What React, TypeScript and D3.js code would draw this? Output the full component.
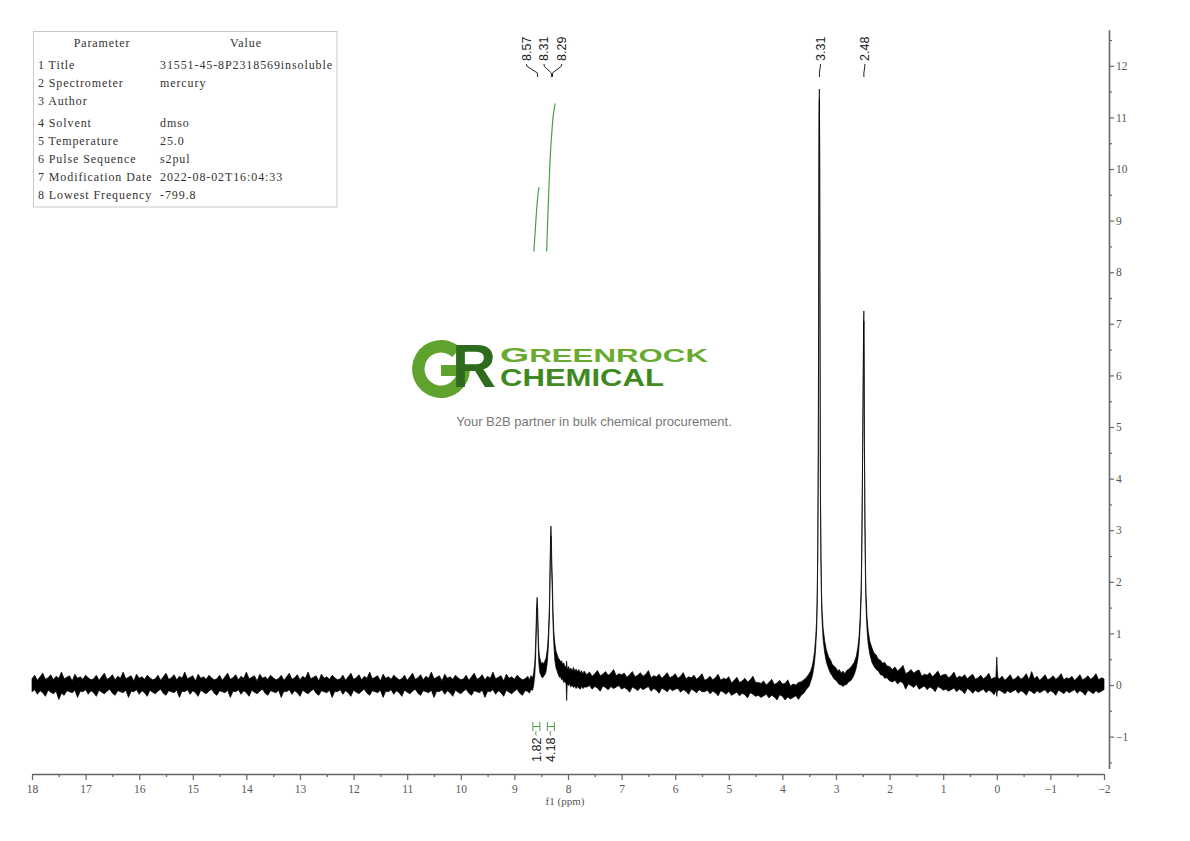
import { useEffect, useRef } from "react";
import * as d3 from "d3";

// ---------------- parameter table ----------------
const paramNames = [
    "1 Title",
    "2 Spectrometer",
    "3 Author",
    "4 Solvent",
    "5 Temperature",
    "6 Pulse Sequence",
    "7 Modification Date",
    "8 Lowest Frequency",
];
const paramValues = ["31551-45-8P2318569insoluble", "mercury", "", "dmso", "25.0", "s2pul", "2022-08-02T16:04:33", "-799.8"];

// ---------------- axes ----------------
const xTicks = [18, 17, 16, 15, 14, 13, 12, 11, 10, 9, 8, 7, 6, 5, 4, 3, 2, 1, 0, -1, -2];
const yTicks = [12, 11, 10, 9, 8, 7, 6, 5, 4, 3, 2, 1, 0, -1];

// ---------------- peak picking / integrals ----------------
const peakLabels = ["8.57", "8.31", "8.29", "3.31", "2.48"];
const peakShifts = [8.57, 8.31, 8.29, 3.31, 2.48];

const integralLabels = ["1.82", "4.18"];
const integralRanges: [number, number][] = [
    [8.64, 8.54],
    [8.4, 8.24],
];
const integralCurve1: [number, number][] = [
    [8.64, 0], [8.636, 0.06], [8.628, 0.22], [8.615, 0.5], [8.6, 0.85], [8.585, 1.18], [8.57, 1.45], [8.555, 1.68], [8.54, 1.82],
];
const integralCurve2: [number, number][] = [
    [8.4, 0], [8.396, 0.1], [8.392, 0.3], [8.385, 0.6], [8.37, 1.25], [8.35, 2.0], [8.33, 2.7], [8.3, 3.4], [8.27, 3.9], [8.24, 4.18],
];

// ---------------- spectrum: [ppm, upper edge, lower edge] of the noisy trace ----------------
const baselineLeft: [number, number, number][] = [
    [18.0, .12, -.13], [17.95, .19, -.09], [17.9, .09, -.18], [17.85, .16, -.11], [17.8, .23, -.15], [17.75, .11, -.22], [17.7, .14, -.1], [17.65, .2, -.14], [17.6, .1, -.17], [17.55, .17, -.12],
    [17.5, .13, -.28], [17.45, .25, -.16], [17.4, .12, -.2], [17.35, .15, -.11], [17.3, .18, -.13], [17.25, .08, -.15], [17.2, .21, -.1], [17.15, .13, -.24], [17.1, .16, -.12], [17.05, .11, -.13],
    [17.0, .19, -.09], [16.95, .14, -.18], [16.9, .1, -.11], [16.85, .12, -.15], [16.8, .19, -.22], [16.75, .09, -.1], [16.7, .16, -.14], [16.65, .23, -.17], [16.6, .11, -.12], [16.55, .14, -.08],
    [16.5, .2, -.16], [16.45, .1, -.2], [16.4, .17, -.11], [16.35, .13, -.13], [16.3, .25, -.15], [16.25, .12, -.1], [16.2, .15, -.24], [16.15, .18, -.12], [16.1, .08, -.13], [16.05, .21, -.09],
    [16.0, .13, -.18], [15.95, .16, -.11], [15.9, .11, -.15], [15.85, .19, -.22], [15.8, .14, -.1], [15.75, .1, -.14], [15.7, .12, -.17], [15.65, .19, -.12], [15.6, .09, -.08], [15.55, .16, -.16],
    [15.5, .23, -.2], [15.45, .11, -.11], [15.4, .14, -.13], [15.35, .2, -.15], [15.3, .1, -.1], [15.25, .17, -.24], [15.2, .13, -.12], [15.15, .25, -.13], [15.1, .12, -.09], [15.05, .15, -.18],
    [15.0, .18, -.11], [14.95, .08, -.15], [14.9, .21, -.22], [14.85, .13, -.1], [14.8, .16, -.14], [14.75, .11, -.17], [14.7, .19, -.12], [14.65, .14, -.08], [14.6, .1, -.16], [14.55, .12, -.2],
    [14.5, .19, -.11], [14.45, .09, -.13], [14.4, .16, -.15], [14.35, .23, -.1], [14.3, .11, -.24], [14.25, .14, -.12], [14.2, .2, -.13], [14.15, .1, -.09], [14.1, .17, -.18], [14.05, .13, -.11],
    [14.0, .25, -.15], [13.95, .12, -.22], [13.9, .15, -.1], [13.85, .18, -.14], [13.8, .08, -.17], [13.75, .21, -.12], [13.7, .13, -.08], [13.65, .16, -.16], [13.6, .11, -.2], [13.55, .19, -.11],
    [13.5, .14, -.13], [13.45, .1, -.15], [13.4, .12, -.1], [13.35, .19, -.24], [13.3, .09, -.12], [13.25, .16, -.13], [13.2, .23, -.09], [13.15, .11, -.18], [13.1, .14, -.11], [13.05, .2, -.15],
    [13.0, .1, -.22], [12.95, .17, -.1], [12.9, .13, -.14], [12.85, .25, -.17], [12.8, .12, -.12], [12.75, .15, -.08], [12.7, .18, -.16], [12.65, .08, -.2], [12.6, .21, -.11], [12.55, .13, -.13],
    [12.5, .16, -.15], [12.45, .11, -.1], [12.4, .19, -.24], [12.35, .14, -.12], [12.3, .1, -.13], [12.25, .12, -.09], [12.2, .19, -.18], [12.15, .09, -.11], [12.1, .16, -.15], [12.05, .23, -.22],
    [12.0, .11, -.1], [11.95, .14, -.14], [11.9, .2, -.17], [11.85, .1, -.12], [11.8, .17, -.08], [11.75, .13, -.16], [11.7, .25, -.2], [11.65, .12, -.11], [11.6, .15, -.13], [11.55, .18, -.15],
    [11.5, .08, -.1], [11.45, .21, -.24], [11.4, .13, -.12], [11.35, .16, -.13], [11.3, .11, -.09], [11.25, .19, -.18], [11.2, .14, -.11], [11.15, .1, -.15], [11.1, .12, -.22], [11.05, .19, -.1],
    [11.0, .09, -.14], [10.95, .16, -.17], [10.9, .23, -.12], [10.85, .11, -.08], [10.8, .14, -.16], [10.75, .2, -.2], [10.7, .1, -.11], [10.65, .17, -.13], [10.6, .13, -.15], [10.55, .25, -.1],
    [10.5, .12, -.24], [10.45, .15, -.12], [10.4, .18, -.13], [10.35, .08, -.09], [10.3, .21, -.18], [10.25, .13, -.11], [10.2, .16, -.15], [10.15, .11, -.22], [10.1, .19, -.1], [10.05, .14, -.14],
    [10.0, .1, -.17], [9.95, .12, -.12], [9.9, .19, -.08], [9.85, .09, -.16], [9.8, .16, -.2], [9.75, .23, -.11], [9.7, .11, -.13], [9.65, .14, -.15], [9.6, .2, -.1], [9.55, .1, -.24],
    [9.5, .17, -.12], [9.45, .13, -.13], [9.4, .25, -.09], [9.35, .12, -.18], [9.3, .15, -.11], [9.25, .18, -.15], [9.2, .08, -.22], [9.15, .21, -.1], [9.1, .13, -.14], [9.05, .16, -.17],
    [9.0, .11, -.12], [8.95, .19, -.08], [8.9, .14, -.16], [8.85, .1, -.2], [8.8, .12, -.11],
];

const aromaticRegion: [number, number, number][] = [
    [8.75, 0.17, -0.12], [8.72, 0.1, -0.16], [8.69, 0.18, -0.09], [8.66, 0.14, -0.1], [8.64, 0.24, 0.0], [8.62, 0.42, 0.18],
    [8.605, 0.75, 0.5], [8.595, 1.15, 0.9], [8.585, 1.55, 1.35], [8.575, 1.7, 1.5], [8.565, 1.45, 1.2],
    [8.555, 1.0, 0.75], [8.545, 0.7, 0.45], [8.53, 0.54, 0.26], [8.51, 0.46, 0.2], [8.49, 0.41, 0.15], [8.47, 0.44, 0.14],
    [8.45, 0.4, 0.18], [8.43, 0.47, 0.2], [8.41, 0.52, 0.26], [8.385, 0.7, 0.45], [8.365, 1.0, 0.78], [8.345, 1.6, 1.38],
    [8.335, 2.3, 2.08], [8.325, 2.9, 2.7], [8.318, 3.08, 2.88], [8.31, 2.8, 2.55], [8.3, 2.3, 2.05],
    [8.29, 1.95, 1.7], [8.28, 1.45, 1.2], [8.265, 1.05, 0.8], [8.245, 0.8, 0.48], [8.225, 0.66, 0.34], [8.2, 0.58, 0.26],
    [8.18, 0.52, 0.2], [8.16, 0.5, 0.15], [8.14, 0.45, 0.16], [8.12, 0.47, 0.1], [8.1, 0.4, 0.12], [8.08, 0.43, 0.05], [8.06, 0.36, 0.07],
    [8.035, 0.35, 0.02], [8.025, 0.46, -0.3], [8.015, 0.3, 0.02], [7.99, 0.36, -0.01], [7.97, 0.29, 0.03], [7.95, 0.33, -0.04],
    [7.92, 0.27, 0.0], [7.9, 0.34, -0.05], [7.87, 0.26, -0.02], [7.85, 0.31, -0.07], [7.82, 0.25, -0.03], [7.8, 0.3, -0.06],
    [7.77, 0.23, -0.08], [7.75, 0.28, -0.03], [7.72, 0.21, -0.07], [7.7, 0.27, -0.04],
];

const baselineMiddle: [number, number, number][] = [
    [7.65, .2, -.04], [7.6, .25, -.01], [7.55, .17, -.08], [7.5, .22, -.03], [7.45, .28, -.06], [7.4, .18, -.12], [7.35, .21, -.02], [7.3, .26, -.05], [7.25, .19, -.09], [7.2, .23, -.03],
    [7.15, .3, -.07], [7.1, .18, -.04], [7.05, .22, -.01], [7.0, .2, -.08], [6.95, .23, -.05], [6.9, .15, -.08], [6.85, .2, -.14], [6.8, .26, -.04], [6.75, .16, -.07], [6.7, .19, -.11],
    [6.65, .24, -.05], [6.6, .17, -.09], [6.55, .21, -.06], [6.5, .28, -.03], [6.45, .14, -.12], [6.4, .18, -.07], [6.35, .16, -.1], [6.3, .21, -.16], [6.25, .13, -.06], [6.2, .18, -.09],
    [6.15, .24, -.13], [6.1, .14, -.07], [6.05, .17, -.11], [6.0, .22, -.08], [5.95, .13, -.07], [5.9, .17, -.14], [5.85, .24, -.09], [5.8, .12, -.12], [5.75, .16, -.18], [5.7, .14, -.08],
    [5.65, .19, -.11], [5.6, .11, -.15], [5.55, .16, -.09], [5.5, .22, -.13], [5.45, .09, -.13], [5.4, .12, -.1], [5.35, .17, -.17], [5.3, .1, -.12], [5.25, .14, -.15], [5.2, .21, -.21],
    [5.15, .09, -.11], [5.1, .13, -.14], [5.05, .11, -.18], [5.0, .16, -.12], [4.95, .04, -.2], [4.9, .09, -.17], [4.85, .15, -.14], [4.8, .05, -.21], [4.75, .08, -.16], [4.7, .13, -.19],
    [4.65, .06, -.25], [4.6, .1, -.15], [4.55, .17, -.18], [4.5, .05, -.22], [4.45, .05, -.2], [4.4, .03, -.24], [4.35, .08, -.21], [4.3, .0, -.18], [4.25, .05, -.25], [4.2, .11, -.2],
    [4.15, .01, -.23], [4.1, .04, -.29], [4.05, .09, -.19], [4.0, .02, -.22], [3.95, .03, -.29], [3.9, .1, -.23], [3.85, -.02, -.27], [3.8, .02, -.24], [3.75, .0, -.21], [3.7, .05, -.28],
];

const aliphaticRegion: [number, number, number][] = [
    [3.65, 0.06, -0.2], [3.6, 0.1, -0.16], [3.55, 0.15, -0.08], [3.5, 0.22, -0.02], [3.47, 0.28, 0.08],
    [3.44, 0.38, 0.18], [3.42, 0.5, 0.3], [3.4, 0.65, 0.45], [3.38, 0.9, 0.7], [3.36, 1.3, 1.1],
    [3.35, 1.8, 1.6], [3.34, 2.7, 2.5], [3.33, 4.6, 4.4], [3.325, 7.0, 6.8], [3.32, 9.8, 9.6],
    [3.315, 11.2, 11.0], [3.31, 11.55, 11.35], [3.305, 10.5, 10.3], [3.3, 8.0, 7.8], [3.295, 5.5, 5.3],
    [3.29, 3.8, 3.6], [3.28, 2.5, 2.3], [3.27, 1.8, 1.6], [3.26, 1.45, 1.25], [3.24, 1.1, 0.88],
    [3.21, 0.85, 0.62], [3.18, 0.68, 0.45], [3.14, 0.55, 0.32], [3.1, 0.48, 0.22], [3.07, 0.4, 0.18], [3.04, 0.37, 0.12],
    [3.0, 0.33, 0.09], [2.97, 0.27, 0.05], [2.94, 0.3, 0.01], [2.9, 0.23, 0.0], [2.87, 0.27, -0.03], [2.84, 0.22, 0.0],
    [2.8, 0.28, 0.01], [2.77, 0.3, 0.06], [2.73, 0.34, 0.08], [2.7, 0.38, 0.12], [2.66, 0.44, 0.2], [2.62, 0.56, 0.34], [2.59, 0.75, 0.52],
    [2.57, 0.95, 0.75], [2.55, 1.3, 1.1], [2.53, 1.9, 1.7], [2.52, 2.6, 2.4], [2.51, 3.7, 3.5],
    [2.5, 5.0, 4.8], [2.49, 6.3, 6.1], [2.485, 7.0, 6.8], [2.48, 7.25, 7.05], [2.475, 6.4, 6.2],
    [2.47, 4.8, 4.6], [2.46, 3.2, 3.0], [2.45, 2.3, 2.1], [2.44, 1.75, 1.5], [2.42, 1.3, 1.05],
    [2.4, 1.05, 0.8], [2.37, 0.85, 0.6], [2.33, 0.72, 0.44], [2.29, 0.62, 0.36], [2.25, 0.58, 0.3], [2.21, 0.5, 0.27],
    [2.17, 0.48, 0.2], [2.13, 0.42, 0.19], [2.09, 0.44, 0.13], [2.05, 0.37, 0.14], [2.0, 0.36, 0.08],
];

const baselineRight: [number, number, number][] = [
    [1.95, .3, .06], [1.9, .35, .09], [1.85, .27, .02], [1.8, .32, .07], [1.75, .38, .04], [1.7, .22, -.08], [1.65, .25, .02], [1.6, .3, -.01], [1.55, .23, -.05], [1.5, .27, .01],
    [1.45, .29, -.08], [1.4, .17, -.05], [1.35, .21, -.02], [1.3, .19, -.09], [1.25, .24, -.04], [1.2, .16, -.07], [1.15, .21, -.13], [1.1, .27, -.03], [1.05, .17, -.06], [1.0, .2, -.1],
    [0.95, .21, -.08], [0.9, .14, -.12], [0.85, .18, -.09], [0.8, .25, -.06], [0.75, .13, -.13], [0.7, .17, -.08], [0.65, .15, -.11], [0.6, .2, -.17], [0.55, .12, -.07], [0.5, .17, -.1],
    [0.45, .21, -.16], [0.4, .11, -.1], [0.35, .14, -.14], [0.3, .19, -.11], [0.25, .12, -.08], [0.2, .16, -.15], [0.15, .23, -.1], [0.1, .11, -.13], [0.05, .15, -.19],
    [0.02, .13, -.12], [0.01, .3, -.1], [0.0, .54, -.22], [-0.01, .28, -.12], [-0.02, .14, -.11],
    [-0.05, .12, -.1], [-0.1, .17, -.13], [-0.15, .09, -.17], [-0.2, .14, -.11], [-0.25, .2, -.15], [-0.3, .1, -.12], [-0.35, .13, -.09], [-0.4, .18, -.16], [-0.45, .11, -.11], [-0.5, .15, -.14],
    [-0.55, .22, -.2], [-0.6, .1, -.1], [-0.65, .26, -.13], [-0.7, .12, -.17], [-0.75, .17, -.11], [-0.8, .09, -.15], [-0.85, .14, -.12], [-0.9, .2, -.09], [-0.95, .1, -.16], [-1.0, .13, -.11],
    [-1.05, .18, -.14], [-1.1, .11, -.2], [-1.15, .15, -.1], [-1.2, .22, -.13], [-1.25, .1, -.17], [-1.3, .14, -.11], [-1.35, .12, -.15], [-1.4, .17, -.12], [-1.45, .09, -.09], [-1.5, .14, -.16],
    [-1.55, .2, -.11], [-1.6, .1, -.14], [-1.65, .13, -.2], [-1.7, .18, -.1], [-1.75, .11, -.13], [-1.8, .15, -.17], [-1.85, .22, -.11], [-1.9, .1, -.15], [-1.95, .14, -.12], [-2.0, .12, -.09],
];

const spectrum = [...baselineLeft, ...aromaticRegion, ...baselineMiddle, ...aliphaticRegion, ...baselineRight];

const width = 1190;
const height = 841;

const x = d3.scaleLinear().domain([18, -2]).range([32, 1104]);
const y = d3.scaleLinear().domain([-1.62, 12.7]).range([768.6, 29.7]);
const yInt = d3.scaleLinear().domain([0, 4.18]).range([251.5, 103.5]);

const axisColor = "#666";
const serif = "'Liberation Serif', 'DejaVu Serif', serif";
const sans = "'Liberation Sans', Arial, sans-serif";

function NmrChart() {
    const xAxisRef = useRef<SVGGElement | null>(null);
    const xMinorRef = useRef<SVGGElement | null>(null);
    const yAxisRef = useRef<SVGGElement | null>(null);
    const yMinorRef = useRef<SVGGElement | null>(null);

    useEffect(() => {
        const fmt = d3.format("d");
        const xMinor = xTicks.slice(1).map((v) => v + 0.5);
        const yMinor = yTicks.map((v) => v + 0.5).concat([-1.5]);

        const styleAxis = (g: d3.Selection<SVGGElement, unknown, null, undefined>) => {
            g.select(".domain").attr("stroke", axisColor).attr("stroke-width", 1.6);
            g.selectAll(".tick line").attr("stroke", axisColor).attr("stroke-width", 1.2);
            g.selectAll(".tick text").attr("fill", "#555").style("font-family", serif).style("font-size", "11.5px");
        };

        d3.select(xAxisRef.current!)
            .attr("transform", "translate(0,774)")
            .call(d3.axisBottom(x).tickValues(xTicks).tickSize(6).tickSizeOuter(0).tickPadding(5).tickFormat((d) => fmt(d as number)))
            .call(styleAxis);
        d3.select(xMinorRef.current!)
            .attr("transform", "translate(0,774)")
            .call(d3.axisBottom(x).tickValues(xMinor).tickSize(3).tickSizeOuter(0).tickFormat(() => ""))
            .call((g) => g.select(".domain").remove())
            .call((g) => g.selectAll(".tick line").attr("stroke", axisColor).attr("stroke-width", 1.2));

        d3.select(yAxisRef.current!)
            .attr("transform", "translate(1109,0)")
            .call(d3.axisRight(y).tickValues(yTicks).tickSize(5).tickSizeOuter(0).tickPadding(2).tickFormat((d) => fmt(d as number)))
            .call(styleAxis);
        d3.select(yMinorRef.current!)
            .attr("transform", "translate(1109,0)")
            .call(d3.axisRight(y).tickValues(yMinor).tickSize(3).tickSizeOuter(0).tickFormat(() => ""))
            .call((g) => g.select(".domain").remove())
            .call((g) => g.selectAll(".tick line").attr("stroke", axisColor).attr("stroke-width", 1.2));
    }, []);

    // spectrum trace (noise band + peaks)
    const trace = d3
        .area<[number, number, number]>()
        .x((d) => x(d[0]))
        .y0((d) => y(d[2]))
        .y1((d) => y(d[1]))(spectrum) ?? "";

    const intLine = d3
        .line<[number, number]>()
        .x((d) => x(d[0]))
        .y((d) => yInt(d[1]))
        .curve(d3.curveMonotoneY);

    // label layout: crowded multiplet labels are spread apart
    const peakPx = peakShifts.map((p) => x(p));
    const clusterCentre = (peakPx[0] + peakPx[1] + peakPx[2]) / 3 - 3;
    const labelPx = peakPx.map((px, i) => (i < 3 ? clusterCentre + (i - 1) * 17.5 : px + 1));

    const gArc = d3.arc()({
        innerRadius: 16.5,
        outerRadius: 29,
        startAngle: Math.PI / 2,
        endAngle: 2 * Math.PI + Math.PI / 4.2,
    } as any) ?? "";

    return (
        <svg width={width} height={height} style={{ position: "absolute", left: 0, top: 0, background: "#fff" }}>
            <rect x={0} y={0} width={width} height={height} fill="#fff" />

            {/* parameter table */}
            <g style={{ fontFamily: serif, fontSize: "12px", letterSpacing: "0.9px" }} fill="#333">
                <rect x={33.5} y={31.5} width={303.5} height={175.5} fill="none" stroke="#c8c8c8" />
                <text x={102} y={47} textAnchor="middle">Parameter</text>
                <text x={246} y={47} textAnchor="middle">Value</text>
                {paramNames.map((n, i) => {
                    const ry = 69 + i * 18 + (i >= 3 ? 4 : 0);
                    return (
                        <g key={n}>
                            <text x={38} y={ry}>{n}</text>
                            <text x={160} y={ry}>{paramValues[i]}</text>
                        </g>
                    );
                })}
            </g>

            {/* logo watermark */}
            <g>
                <path d={gArc} transform="translate(441,369)" fill="#5fa22d" />
                <rect x={441} y={365} width={24} height={11} fill="#5fa22d" />
                <text x={452} y={387} fill="#2f6b1f" style={{ fontFamily: sans, fontWeight: 700, fontSize: "61px" }}>R</text>
                <text x={500} y={362} fill="#68ab30" textLength={208} lengthAdjust="spacingAndGlyphs" style={{ fontFamily: sans, fontWeight: 700 }}>
                    <tspan style={{ fontSize: "21px" }}>G</tspan>
                    <tspan style={{ fontSize: "17.5px" }}>REENROCK</tspan>
                </text>
                <text x={500} y={386} fill="#3f8a1f" textLength={164} lengthAdjust="spacingAndGlyphs" style={{ fontFamily: sans, fontWeight: 700, fontSize: "23.5px" }}>
                    CHEMICAL
                </text>
                <text x={594} y={426} textAnchor="middle" fill="#777" style={{ fontFamily: sans, fontSize: "13px" }}>
                    Your B2B partner in bulk chemical procurement.
                </text>
            </g>

            {/* spectrum */}
            <path d={trace} fill="#000" stroke="#000" strokeWidth={0.7} strokeLinejoin="round" />

            {/* integral curves */}
            <g fill="none" stroke="#4a9e46" strokeWidth={1.2}>
                <path d={intLine(integralCurve1) ?? ""} />
                <path d={intLine(integralCurve2) ?? ""} />
            </g>

            {/* peak labels */}
            <g style={{ fontFamily: sans, fontSize: "12.5px" }} fill="#222">
                {peakLabels.map((lab, i) => (
                    <g key={lab}>
                        <text transform={`translate(${labelPx[i]},61) rotate(-90)`} dy="0.35em">{lab}</text>
                        <path
                            d={`M${labelPx[i]},64 L${labelPx[i]},66 L${peakPx[i]},73 L${peakPx[i]},77`}
                            fill="none"
                            stroke="#222"
                            strokeWidth={1}
                        />
                    </g>
                ))}
            </g>

            {/* integral labels */}
            {integralLabels.map((lab, i) => {
                const x1 = x(integralRanges[i][0]);
                const x2 = x(integralRanges[i][1]);
                const cx = (x1 + x2) / 2;
                return (
                    <g key={lab}>
                        <path
                            d={`M${cx - 3.5},722 L${cx - 3.5},731 M${cx + 3.5},722 L${cx + 3.5},731 M${cx - 3.5},726.5 L${cx + 3.5},726.5 M${cx},731 Q${cx - 2},733.5 ${cx},735.5`}
                            fill="none"
                            stroke="#4a9e46"
                            strokeWidth={1}
                        />
                        <text transform={`translate(${cx},762) rotate(-90)`} dy="0.35em" fill="#222" style={{ fontFamily: sans, fontSize: "12.5px" }}>
                            {lab}
                        </text>
                    </g>
                );
            })}

            {/* axes */}
            <g ref={xMinorRef} />
            <g ref={xAxisRef} />
            <g ref={yMinorRef} />
            <g ref={yAxisRef} />
            <text x={565} y={805} textAnchor="middle" fill="#555" style={{ fontFamily: serif, fontSize: "11px" }}>
                f1 (ppm)
            </text>
        </svg>
    );
}

export default function App() {
    return (
        <div>
            <NmrChart />
        </div>
    );
}
